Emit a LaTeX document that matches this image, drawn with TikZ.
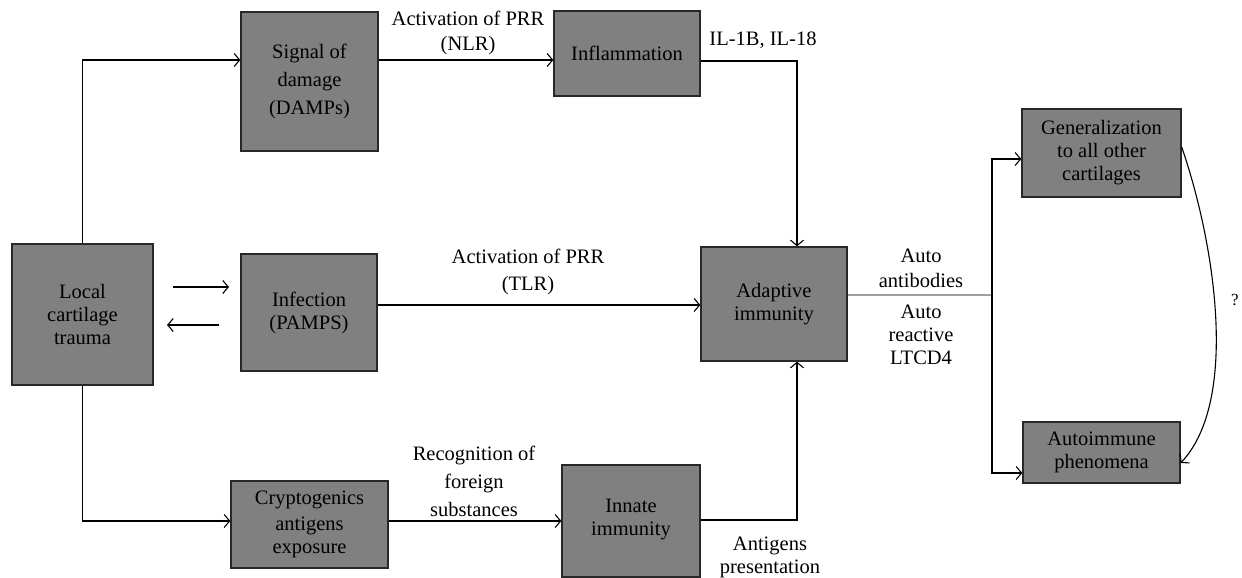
\documentclass[tikz,border=0pt]{standalone}
\usepackage{fontspec}
\setmainfont{Liberation Serif}
\usetikzlibrary{arrows.meta,calc}
\definecolor{boxfill}{RGB}{128,128,128}
\definecolor{boxline}{RGB}{40,40,40}
\definecolor{hubline}{RGB}{160,160,160}
\begin{document}
\begin{tikzpicture}[x=1pt,y=-1pt,
  box/.style={draw=boxline,fill=boxfill,line width=1.3pt,inner sep=2pt,align=center,
    font=\fontsize{20.5}{23}\selectfont,text=black},
  lbl/.style={align=center,font=\fontsize{20.5}{23}\selectfont,inner sep=0pt},
  arr/.style={line width=1.1pt,-{Straight Barb[length=5.5pt,width=13pt]}},
  ln/.style={line width=1.1pt}]
\useasboundingbox (0,0) rectangle (1242,578);
% boxes
\node[box,minimum width=137pt,minimum height=139pt] (sig) at (309.5,81.5) {Signal of\\[5pt]damage\\[5pt](DAMPs)};
\node[box,minimum width=146pt,minimum height=85pt] (inf) at (627,53.5) {Inflammation};
\node[box,minimum width=141pt,minimum height=141pt] (loc) at (82.5,314.5) {Local\\cartilage\\trauma};
\node[box,minimum width=136pt,minimum height=117pt] (infc) at (309,312.5) {Infection\\(PAMPS)};
\node[box,minimum width=157pt,minimum height=87pt] (cry) at (309.5,524.5) {Cryptogenics\\[3pt]antigens\\exposure};
\node[box,minimum width=138pt,minimum height=112pt] (inn) at (631,521) {Innate\\immunity\\[-15pt]\mbox{}};
\node[box,minimum width=146pt,minimum height=114pt] (ada) at (774,304) {Adaptive\\immunity};
\node[box,minimum width=159pt,minimum height=88pt] (gen) at (1101.5,153) {Generalization\\to all other\\cartilages};
\node[box,minimum width=157pt,minimum height=61pt] (aut) at (1101.5,452.5) {Autoimmune\\phenomena};
% coordinates
\coordinate (hub) at (992,295);
\coordinate (ra1) at (173,287);
\coordinate (ra2) at (229,287);
\coordinate (la1) at (219,325);
\coordinate (la2) at (167,325);
% connectors
\draw[arr] (loc.north) |- (sig.west |- 0,60);
\draw[arr] (sig.east |- 0,60) -- (inf.west |- 0,60);
\draw[arr] (inf.east |- 0,61) -| (ada.north -| 797,0);
\draw[arr] (infc.east |- 0,305) -- (ada.west |- 0,305);
\draw[arr] (loc.south) |- (cry.west |- 0,521);
\draw[arr] (cry.east |- 0,521) -- (inn.west |- 0,521);
\draw[arr] (inn.east |- 0,520) -| (ada.south -| 797,0);
\draw[ln,hubline] (ada.east |- hub) -- (hub);
\draw[arr] (hub) |- (gen.west |- 0,159);
\draw[arr] (hub) |- (aut.west |- 0,473);
\draw[arr] (gen.east |- 0,147) .. controls (1214,240) and (1240,400) .. (aut.east |- 0,463);
\draw[arr] (ra1) -- (ra2);
\draw[arr] (la1) -- (la2);
% labels
\node[lbl] (l1) at (468,33) {Activation of PRR\\[2pt](NLR)};
\node[lbl] (l2) at (763,40) {IL-1B, IL-18};
\node[lbl] (l3) at (528,272) {Activation of PRR\\[4pt](TLR)};
\node[lbl] (l4) at (474,481) {Recognition of\\[5pt]foreign\\[5pt]substances};
\node[lbl] (l5) at (770,557) {Antigens\\presentation};
\node[lbl] (l6) at (921,268) {Auto\\[2pt]antibodies};
\node[lbl] (l7) at (921,335) {Auto\\reactive\\LTCD4};
\node[lbl,font=\fontsize{17}{19}\selectfont] (l8) at (1235,300) {?};
\end{tikzpicture}
\end{document}
